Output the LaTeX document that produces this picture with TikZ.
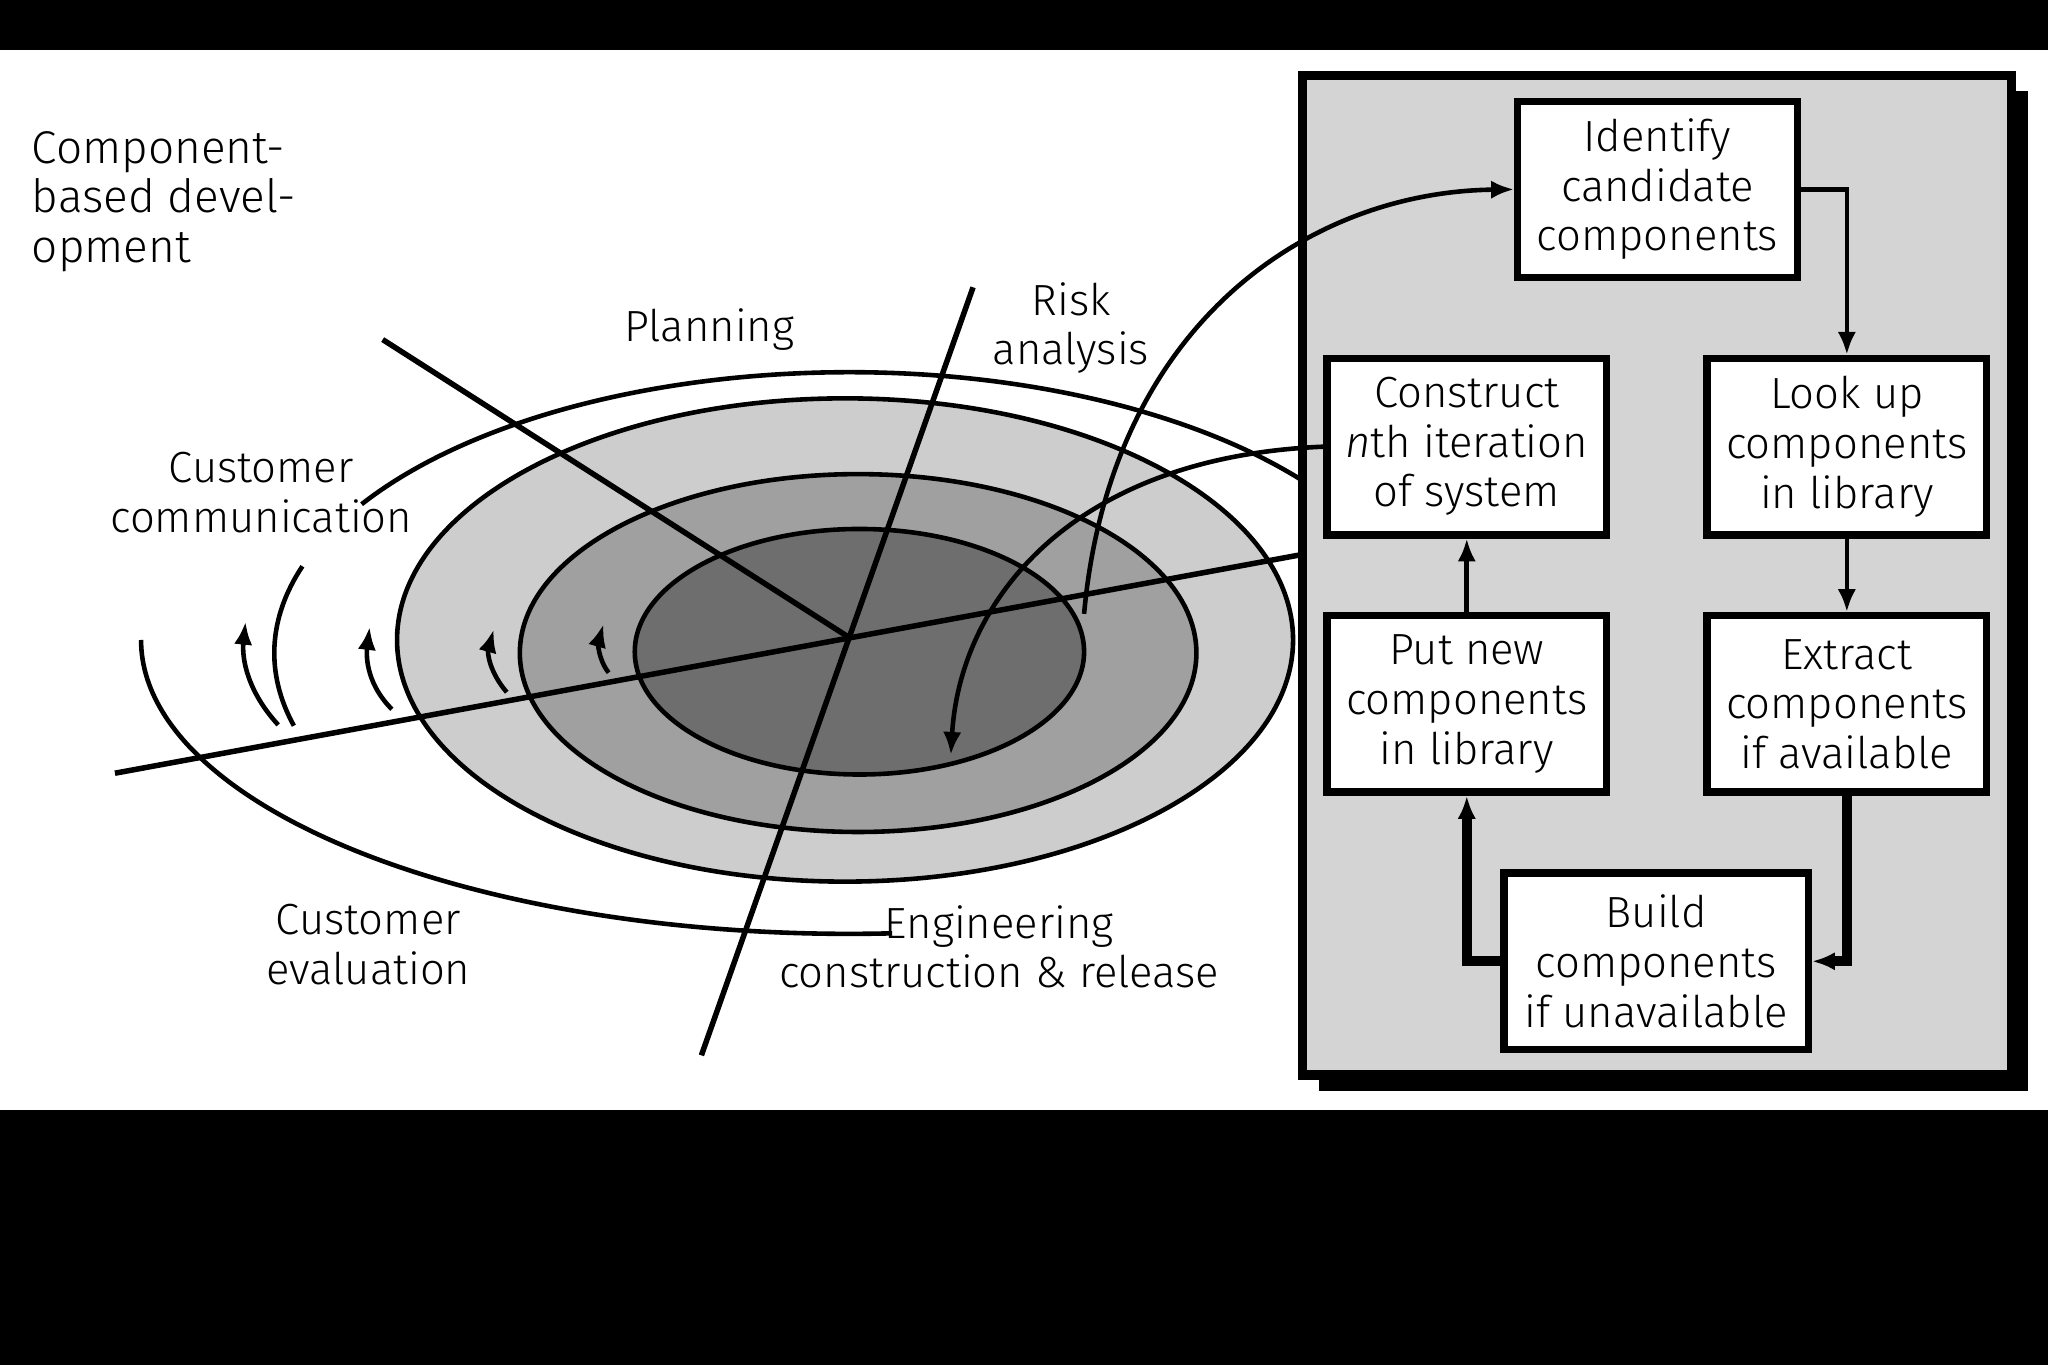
\documentclass[tikz,border=0pt]{standalone}
\usepackage{fontspec}
\setmainfont{Fira Sans Light}[BoldFont=Fira Sans]
\usetikzlibrary{positioning,arrows.meta,calc}
\definecolor{ringlight}{RGB}{205,205,205}
\definecolor{ringmid}{RGB}{160,160,160}
\definecolor{ringdark}{RGB}{110,110,110}
\definecolor{panelgray}{RGB}{212,212,212}
\tikzset{
  stage/.style={draw,line width=1.6pt,fill=white,align=center,minimum width=2.14cm,minimum height=1.35cm,font=\fontsize{9.5}{10.8}\selectfont},
  lbl/.style={align=center,font=\fontsize{9.5}{10.8}\selectfont},
  flow/.style={-{Latex[length=5pt,width=4pt]},line width=1pt},
  thick flow/.style={-{Latex[length=5pt,width=4pt]},line width=2.2pt},
}
\begin{document}
\begin{tikzpicture}[x=0.1mm,y=-0.1mm]
\useasboundingbox (0,0) rectangle (1568,1045);
% background
\fill[black] (0,0) rectangle (1568,1045);
\fill[white] (0,38) rectangle (1568,850);

% title
\node[align=left,anchor=north west,font=\fontsize{10}{10.8}\selectfont] (title) at (12,88) {Component-\\based devel-\\opment};

% rings
\fill[ringlight] (647,490) ellipse [x radius=343,y radius=185];
\draw[line width=1pt] (647,490) ellipse [x radius=343,y radius=185];
\fill[ringmid] (657,500) ellipse [x radius=259,y radius=137];
\draw[line width=1pt] (657,500) ellipse [x radius=259,y radius=137];
\fill[ringdark] (658,499) ellipse [x radius=172,y radius=94];
\draw[line width=1pt] (658,499) ellipse [x radius=172,y radius=94];

% outer spiral arcs
\draw[line width=1pt] (108,490) arc [start angle=180,end angle=86.5,x radius=542,y radius=225];
\draw[line width=1pt] (650,500) ++(165:440 and 215) arc [start angle=165,end angle=198,x radius=440,y radius=215];
\draw[line width=1pt] (650,500) ++(212:440 and 215) arc [start angle=212,end angle=350,x radius=440,y radius=215];

% small arrows
\draw[flow] (213,555) .. controls (190,530) and (185,505) .. (188,476);
\draw[flow] (300,543) .. controls (282,525) and (280,505) .. (283,480);
\draw[flow] (388,530) .. controls (375,515) and (373,500) .. (378,482);
\draw[flow] (466,515) .. controls (458,505) and (458,492) .. (462,478);

% axes
\draw[line width=1.2pt] (293,260) -- (650,488);
\draw[line width=1.2pt] (745,220) -- (537,808);
\draw[line width=1.2pt] (88,592) -- (1000,424);

% labels
\node[lbl] (planning) at (543,252) {Planning};
\node[lbl] (risk) at (820,251) {Risk\\analysis};
\node[lbl] (comm) at (200,377) {Customer\\communication};
\node[lbl] (eval) at (282,723) {Customer\\evaluation};
\node[lbl] (eng) at (765,725) {Engineering\\construction \& release};

% panel
\fill[black] (1010,70) rectangle (1553,835);
\draw[line width=2pt,fill=panelgray] (997,58) rectangle (1540,823);

% stages
\node[stage] (identify) at (1269,145) {Identify\\candidate\\components};
\node[stage] (construct) at (1123,342) {Construct\\\textit{n}th iteration\\of system};
\node[stage] (lookup) at (1414,342) {Look up\\components\\in library};
\node[stage] (put) at (1123,539) {Put new\\components\\in library};
\node[stage] (extract) at (1414,539) {Extract\\components\\if available};
\node[stage,minimum width=2.33cm] (build) at (1268,736) {Build\\components\\if unavailable};

% flow
\draw[flow] (identify.east) -| (lookup.north);
\draw[flow] (lookup) -- (extract);
\draw[thick flow] (extract.south) |- (build.east);
\draw[thick flow] (build.west) -| (put.south);
\draw[flow] (put) -- (construct);

% spiral links
\coordinate (start) at (830,470);
\coordinate (finish) at (728,578);
\draw[flow] (start) .. controls (850,250) and (1000,147) .. (identify.west);
\draw[flow] (construct.west) .. controls (820,350) and (735,460) .. (finish);
\end{tikzpicture}
\end{document}
